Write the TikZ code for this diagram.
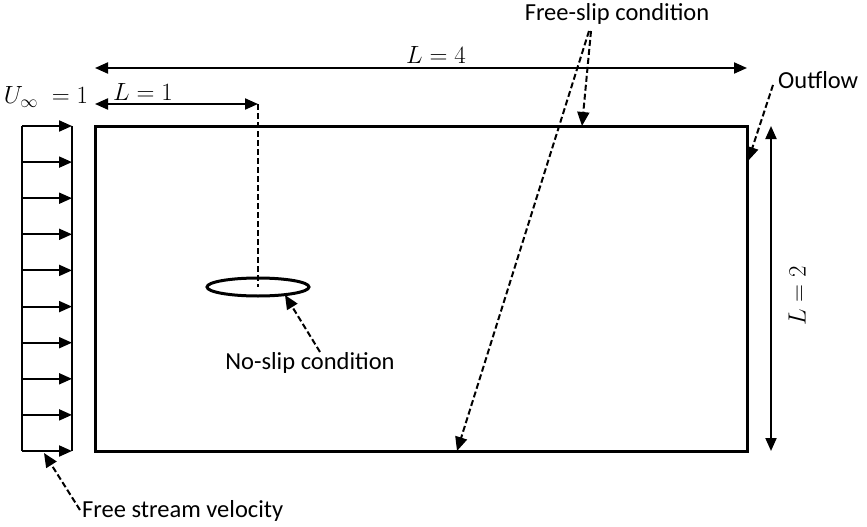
\documentclass[tikz,border=0pt]{standalone}
\usepackage{fontspec}
\setmainfont{Carlito}
\usetikzlibrary{positioning, arrows.meta, shapes.geometric}

\begin{document}
\begin{tikzpicture}[
    x=1pt, y=-1pt,
    every node/.style={font=\fontsize{24.5}{28}\selectfont, inner sep=0pt},
    mathlabel/.style={font=\fontsize{23}{27}\selectfont},
    domainbox/.style={draw, line width=3pt, minimum width=652pt, minimum height=325pt, inner sep=0pt},
    bodyshape/.style={draw, ellipse, line width=3pt, minimum width=102pt, minimum height=18pt, inner sep=0pt},
    dimline/.style={{Triangle[length=13pt,width=11pt]}-{Triangle[length=13pt,width=11pt]}, line width=2pt},
    flowarrow/.style={-{Triangle[length=13pt,width=11pt]}, line width=2pt},
    notearrow/.style={-{Triangle[length=14pt,width=12pt]}, line width=2pt, dash pattern=on 6pt off 3pt},
  ]
    \useasboundingbox (0,0) rectangle (867,527);

    % domain and body
    \node[domainbox] (dom) at (421,288.5) {};
    \node[bodyshape] (ell) at (258,287) {};

    % free stream profile
    \draw[line width=2pt] (22,126) -- (22,451);
    \draw[line width=2pt] (72,126) -- (72,451);
    \foreach \y in {126,162.1,198.2,234.3,270.4,306.6,342.7,378.8,414.9,451}
      \draw[flowarrow] (22,\y) -- (72,\y);

    % dimensions
    \coordinate (lonea) at (95,104);
    \coordinate (loneb) at (258,104);
    \draw[dimline] (lonea) -- (loneb);
    \draw[line width=2pt, dash pattern=on 6pt off 3pt] (loneb) -- (ell.center);
    \draw[dimline] (95,68) -- (747,68);
    \draw[dimline] (771,126) -- (771,451);

    \node[mathlabel] (uinf)  at (46,97)  {$U_{\infty}\;=1$};
    \node[mathlabel] (lone)  at (143,92) {$L=1$};
    \node[mathlabel] (lfour) at (436,55) {$L=4$};
    \node[mathlabel, rotate=90] (ltwo) at (797,296) {$L=2$};

    % annotations
    \node (freeslip) at (617,14)  {Free-slip condition};
    \node[anchor=west] (outflow)  at (778,80)  {Outflow};
    \node (noslip)   at (310,363) {No-slip condition};
    \node[anchor=west] (freestr)  at (82,511) {Free stream velocity};

    \coordinate (fsa) at (589,31);
    \coordinate (fsb) at (591,31);
    \coordinate (topw) at (582,126);
    \coordinate (botw) at (457,451);
    \draw[notearrow] (fsb) -- (topw);
    \draw[notearrow] (fsa) -- (botw);
    \draw[notearrow] (773,85) -- (748,161);
    \draw[notearrow] (320,352) -- (285,295);
    \draw[notearrow] (80,510) -- (44,453);
  \end{tikzpicture}
\end{document}
